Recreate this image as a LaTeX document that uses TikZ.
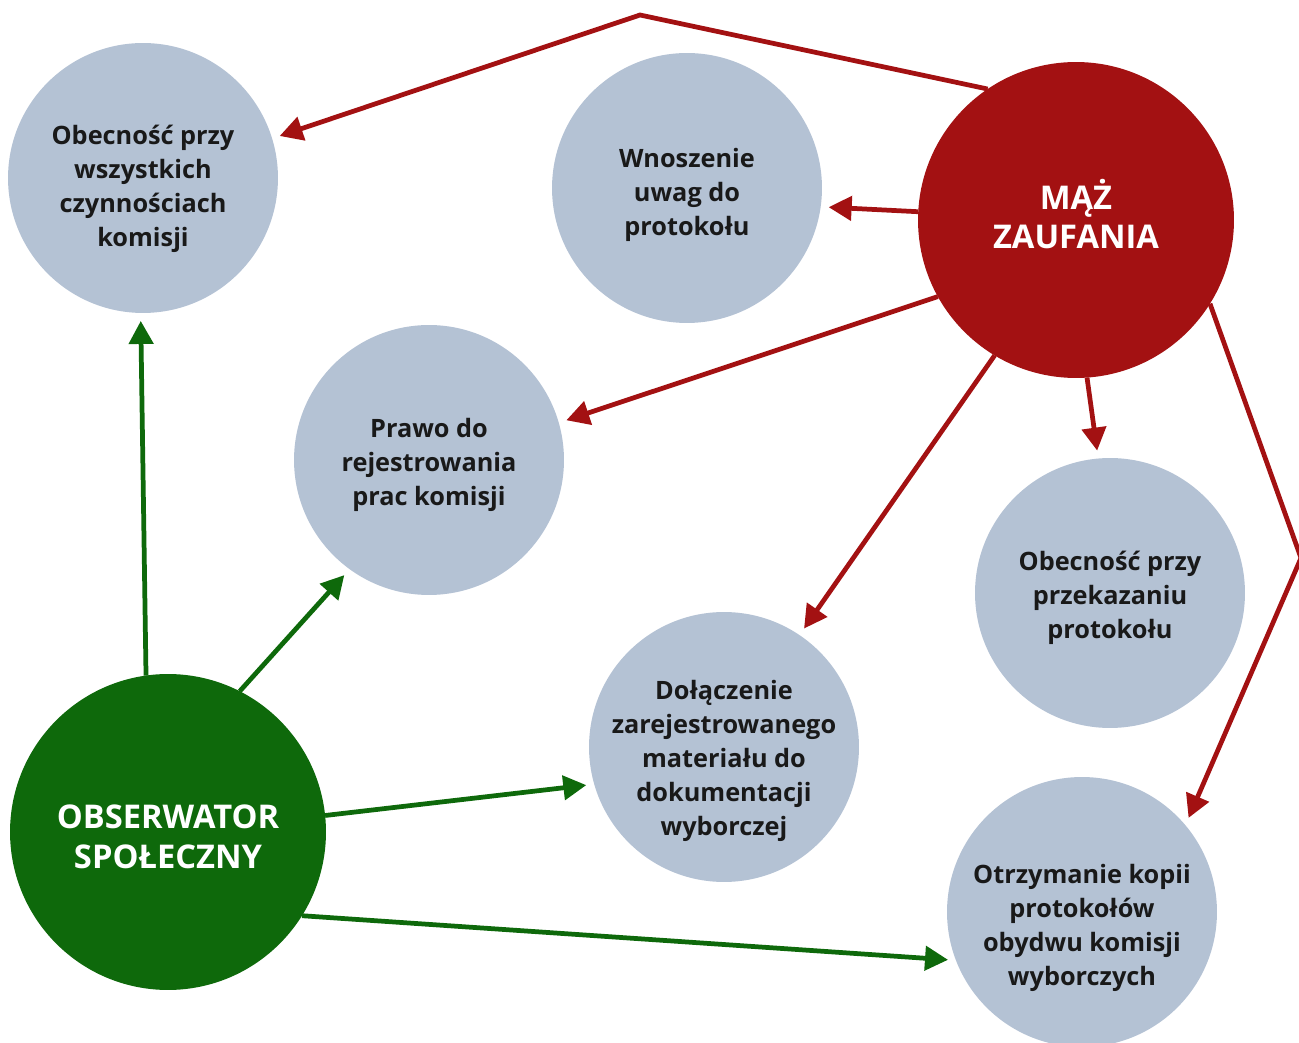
\documentclass[tikz,border=0pt]{standalone}
\usepackage{fontspec}
\setmainfont{Open Sans}
\usetikzlibrary{arrows.meta}

\definecolor{zaured}{HTML}{A31112}
\definecolor{obsgreen}{HTML}{0E690B}
\definecolor{bubblegrey}{HTML}{B4C2D4}

\tikzstyle{bubble}=[circle,fill=bubblegrey,minimum size=5.4cm,inner sep=0pt,outer sep=0pt]
\tikzstyle{mainbubble}=[bubble,minimum size=6.32cm]
\tikzstyle{bubbletext}=[align=center,text=black!90,font=\bfseries\fontsize{14.4}{19.3}\selectfont]
\tikzstyle{maintext}=[align=center,text=white,font=\bfseries\fontsize{18.6}{22.7}\selectfont]
\tikzstyle{redline}=[draw=zaured,line width=2.7pt,-{Triangle[length=0.46cm,width=0.48cm]},shorten >=0.16cm]
\tikzstyle{greenline}=[redline,draw=obsgreen]

\begin{document}
\begin{tikzpicture}[x=0.02cm,y=-0.02cm]
\useasboundingbox (0,0) rectangle (1299,1043);

% RIGHTS

\node[bubble,label={[bubbletext,yshift=-0.22cm]center:Obecność przy\\wszystkich\\czynnościach\\komisji}] (wszystkie) at (143,178) {};
\node[bubble,label={[bubbletext,yshift=-0.14cm]center:Wnoszenie\\uwag do\\protokołu}] (uwagi) at (687,188) {};
\node[bubble,label={[bubbletext,yshift=-0.1cm]center:Prawo do\\rejestrowania\\prac komisji}] (rejestr) at (429,460) {};
\node[bubble,label={[bubbletext,yshift=-0.1cm]center:Obecność przy\\przekazaniu\\protokołu}] (przekaz) at (1110,593) {};
\node[bubble,label={[bubbletext,yshift=-0.28cm]center:Dołączenie\\zarejestrowanego\\materiału do\\dokumentacji\\wyborczej}] (material) at (724,747) {};
\node[bubble,label={[bubbletext,yshift=-0.32cm]center:Otrzymanie kopii\\protokołów\\obydwu komisji\\wyborczych}] (kopie) at (1082,912) {};

% MAZ ZAUFANIA

\node[mainbubble,fill=zaured,label={[maintext,yshift=0.12cm]center:MĄŻ\\ZAUFANIA}] (maz) at (1076,220) {};
\coordinate (peak) at (640,15);
\coordinate (bend) at (1301,558);

\draw[redline] (maz.124) -- (peak) -- (wszystkie.17);
\draw[redline] (maz.177) -- (uwagi.352);
\draw[redline] (maz.209) -- (rejestr.16);
\draw[redline] (maz.239) -- (material.56);
\draw[redline] (maz.274) -- (przekaz.95);
\draw[redline] (maz.328) -- (bend) -- (kopie.40);

% OBSERWATOR

\node[mainbubble,fill=obsgreen,label={[maintext,yshift=-0.1cm]center:OBSERWATOR\\SPOŁECZNY}] (obs) at (168,832) {};

\draw[greenline] (obs.98) -- (wszystkie.269);
\draw[greenline] (obs.63) -- (rejestr.234);
\draw[greenline] (obs.6) -- (material.196);
\draw[greenline] (obs.328) -- (kopie.201);

\end{tikzpicture}
\end{document}
